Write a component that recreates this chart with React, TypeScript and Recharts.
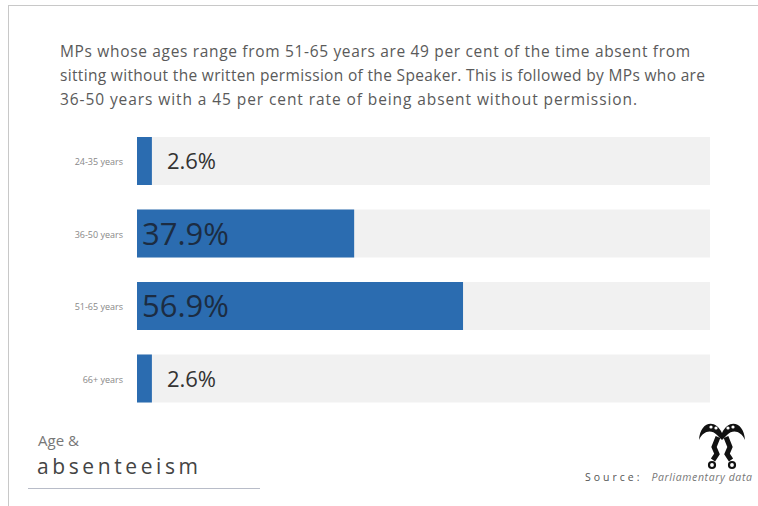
import { BarChart, Bar, XAxis, YAxis, LabelList } from "recharts"

const ageGroups = ["24-35 years", "36-50 years", "51-65 years", "66+ years"]
const absentShare = [2.6, 37.9, 56.9, 2.6]

const data = ageGroups.map((name, i) => ({ name, value: absentShare[i] }))

const titleLines = [
  "MPs whose ages range from 51-65 years are 49 per cent of the time absent from",
  "sitting without the written permission of the Speaker. This is followed by MPs who are",
  "36-50 years with a 45 per cent rate of being absent without permission.",
]
const titleWidths = [630, 645, 577]

const barColor = "#2b6cb0"
const trackColor = "#f1f1f1"

function AgeTick(props: any) {
  const { y, payload } = props
  return (
    <text x={123} y={y} dy={4} textAnchor="end" fontSize={9} fill="#888" fontFamily="Open Sans">
      {payload.value}
    </text>
  )
}

function ValueLabel(props: any) {
  const { x, y, width, height, value } = props
  const big = value > 10
  return (
    <text
      x={big ? x + 5 : x + width + 15}
      y={y + height / 2}
      dy={big ? 11 : 8}
      fontSize={big ? 31 : 22}
      fill={big ? "#1c2c42" : "#333"}
      fontFamily="Open Sans"
    >
      {value}%
    </text>
  )
}

export default function App() {
  return (
    <div style={{ position: "absolute", left: 0, top: 0, width: 758, height: 506, background: "#fff", fontFamily: "Open Sans" }}>
      <div style={{ position: "absolute", left: 8, top: 5, right: 0, height: 1, background: "#c8c8c8" }} />
      <div style={{ position: "absolute", left: 8, top: 5, width: 1, bottom: 0, background: "#c8c8c8" }} />
      <svg style={{ position: "absolute", left: 0, top: 0 }} width={758} height={120}>
        {titleLines.map((line, i) => (
          <text
            key={line}
            x={60}
            y={57 + i * 24}
            fontSize={15.5}
            fill="#5a5a5a"
            fontFamily="Open Sans"
            textLength={titleWidths[i]}
            lengthAdjust="spacing"
          >
            {line}
          </text>
        ))}
      </svg>
      <div style={{ position: "absolute", left: 0, top: 0 }}>
        <BarChart
          width={758}
          height={506}
          data={data}
          layout="vertical"
          margin={{ top: 125, right: 48, bottom: 91, left: 0 }}
        >
          <XAxis type="number" domain={[0, 100]} hide />
          <YAxis
            type="category"
            dataKey="name"
            width={137}
            axisLine={false}
            tickLine={false}
            tick={<AgeTick />}
          />
          <Bar dataKey="value" fill={barColor} barSize={48} background={{ fill: trackColor }} isAnimationActive={false}>
            <LabelList dataKey="value" content={<ValueLabel />} />
          </Bar>
        </BarChart>
      </div>
      <div style={{ position: "absolute", left: 38, top: 430, fontSize: 15, color: "#777" }}>Age &amp;</div>
      <div style={{ position: "absolute", left: 37, top: 452, fontSize: 21, letterSpacing: 3.6, color: "#444" }}>
        absenteeism
      </div>
      <div style={{ position: "absolute", left: 28, top: 488, width: 232, height: 1, background: "#b8bcc8" }} />
      <svg style={{ position: "absolute", left: 697, top: 416 }} width={50} height={56} viewBox="0 0 50 56">
        <path d="M2 24 C3 6 18 2 25 17 C32 2 47 6 48 24 C44 15 36 13 30 19 L25 24 L20 19 C14 13 6 15 2 24 Z" fill="#111" />
        <circle cx={14} cy={11} r={1.6} fill="#fff" />
        <circle cx={19} cy={12} r={1.6} fill="#fff" />
        <circle cx={31} cy={12} r={1.6} fill="#fff" />
        <circle cx={36} cy={11} r={1.6} fill="#fff" />
        <path d="M21 21 L17 31 L20 38 L16 44" stroke="#111" strokeWidth={5} fill="none" />
        <path d="M29 21 L33 31 L30 38 L34 44" stroke="#111" strokeWidth={5} fill="none" />
        <circle cx={15} cy={49} r={3} stroke="#111" strokeWidth={2.2} fill="none" />
        <circle cx={35} cy={49} r={3} stroke="#111" strokeWidth={2.2} fill="none" />
      </svg>
      <div style={{ position: "absolute", left: 585, top: 470, fontSize: 10.5, color: "#555", whiteSpace: "nowrap" }}>
        <span style={{ letterSpacing: 3 }}>Source:</span>
        <span style={{ fontStyle: "italic", fontSize: 10.5, color: "#777", marginLeft: 9, letterSpacing: 0.6 }}>
          Parliamentary data
        </span>
      </div>
    </div>
  )
}
